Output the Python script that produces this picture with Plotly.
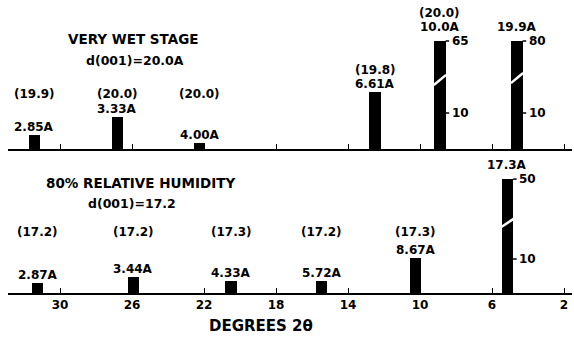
import plotly.graph_objects as go

# ---------------- data ----------------
# upper pattern: very wet stage
wet_2theta = [31.44, 26.83, 22.25, 12.5, 8.89, 4.61]
wet_height = [3.9, 8.9, 1.7, 15.8, 30.0, 30.0]          # drawn height (scale units, 10 = tick "10")
wet_dlabel = ["2.85A", "3.33A", "4.00A", "6.61A", "10.0A", "19.9A"]
wet_d001 = ["(19.9)", "(20.0)", "(20.0)", "(19.8)", "(20.0)", ""]
wet_scale_top = ["", "", "", "", "65", "80"]
wet_break_lo = [None, None, None, None, 17.8, 18.3]
wet_break_hi = [None, None, None, None, 20.6, 21.1]

# lower pattern: 80% relative humidity
rh_2theta = [31.25, 25.94, 20.5, 15.47, 10.25, 5.14]
rh_height = [2.9, 4.7, 3.5, 3.5, 10.3, 33.5]
rh_dlabel = ["2.87A", "3.44A", "4.33A", "5.72A", "8.67A", "17.3A"]
rh_d001 = ["(17.2)", "(17.2)", "(17.3)", "(17.2)", "(17.3)", ""]
rh_scale_top = ["", "", "", "", "", "50"]
rh_break_lo = [None, None, None, None, None, 19.4]
rh_break_hi = [None, None, None, None, None, 21.8]

x_ticks = [30, 26, 22, 18, 14, 10, 6, 2]
x_ticklabels = ["30", "26", "22", "18", "14", "10", "6", "2"]
scale_mid_value = 10

titles_wet = ["VERY WET STAGE", "d(001)=20.0A"]
titles_rh = ["80% RELATIVE HUMIDITY", "d(001)=17.2"]
x_title = "DEGREES 2θ"

# ---------------- layout constants ----------------
FW, FH = 574, 341
ML, MR, MT, MB = 8, 2, 0, 48
PW, PH = FW - ML - MR, FH - MT - MB
X_RANGE = [32.89, 1.556]
BAR_W = 0.62
FONT = "DejaVu Sans"

top_base_px = 149          # baseline of upper pattern (from top of plot area)
bot_top_px = 163           # top of lower panel
top_unit = 3.6             # px per unit
bot_unit = 3.4

top_dom = [(PH - top_base_px) / PH, 1.0]
bot_dom = [0.0, (PH - bot_top_px) / PH]
top_range = [0, top_base_px / top_unit]
bot_range = [0, (PH - bot_top_px) / bot_unit]

fig = go.Figure()
annotations = []


def bold(t):
    return "<b>" + t + "</b>"


def panel(xs, hs, dl, d001, scale_top, blo, bhi, xa, ya, unit, row_px):
    xref = "x" if xa == "x" else "x2"
    yref = "y" if ya == "y" else "y2"
    fig.add_trace(go.Bar(x=xs, y=hs, width=BAR_W, xaxis=xa, yaxis=ya,
                         marker=dict(color="black", line=dict(width=0)),
                         showlegend=False, hoverinfo="skip"))
    bx, by, tx, ty = [], [], [], []
    for i, x in enumerate(xs):
        broken = scale_top[i] != ""
        if broken:
            bx += [x + BAR_W / 2 + 0.03, x - BAR_W / 2 - 0.03, None]
            by += [blo[i], bhi[i], None]
            xe = x - BAR_W / 2
            for yv in (hs[i], scale_mid_value):
                tx += [xe, xe - 0.2, None]
                ty += [yv, yv, None]
            for yv, t in ((hs[i], scale_top[i]), (scale_mid_value, "10")):
                annotations.append(dict(x=xe - 0.22, y=yv, xref=xref, yref=yref,
                                        text=bold(t), showarrow=False, xanchor="left",
                                        yanchor="middle", font=dict(family=FONT, size=12, color="black")))
        extra = 6 if broken else 0
        top_px = hs[i] * unit
        dl_center = top_px + 8 + extra
        annotations.append(dict(x=x, y=0, xref=xref, yref=yref, text=bold(dl[i]),
                                showarrow=False, xanchor="center", yanchor="middle",
                                yshift=dl_center,
                                font=dict(family=FONT, size=12, color="black")))
        if d001[i]:
            pc = max(row_px, dl_center + 14)
            annotations.append(dict(x=x, y=0, xref=xref, yref=yref, text=bold(d001[i]),
                                    showarrow=False, xanchor="center", yanchor="middle",
                                    yshift=pc,
                                    font=dict(family=FONT, size=12, color="black")))
    fig.add_trace(go.Scatter(x=bx, y=by, mode="lines", xaxis=xa, yaxis=ya,
                             line=dict(color="white", width=2.5),
                             showlegend=False, hoverinfo="skip"))
    fig.add_trace(go.Scatter(x=tx, y=ty, mode="lines", xaxis=xa, yaxis=ya,
                             line=dict(color="black", width=1.5),
                             showlegend=False, hoverinfo="skip"))


panel(wet_2theta, wet_height, wet_dlabel, wet_d001, wet_scale_top,
      wet_break_lo, wet_break_hi, "x2", "y2", top_unit, 55)
panel(rh_2theta, rh_height, rh_dlabel, rh_d001, rh_scale_top,
      rh_break_lo, rh_break_hi, "x", "y", bot_unit, 61)


def paper_xy(px, py):
    return (px - ML) / PW, (PH - (py - MT)) / PH


for (txt, px, py, sz) in [(titles_wet[0], 133, 39, 13.5), (titles_wet[1], 135, 60, 12.5),
                          (titles_rh[0], 140, 183, 13.5), (titles_rh[1], 132, 203, 12.5),
                          (x_title, 261, 326, 15)]:
    xx, yy = paper_xy(px, py)
    annotations.append(dict(x=xx, y=yy, xref="paper", yref="paper", text=bold(txt),
                            showarrow=False, xanchor="center", yanchor="middle",
                            font=dict(family=FONT, size=sz, color="black")))

axis_common = dict(range=X_RANGE, showgrid=False, zeroline=False, showline=True,
                   linecolor="black", linewidth=1.8, ticks="inside", ticklen=5,
                   tickwidth=1.2, tickcolor="black", tickvals=x_ticks,
                   ticktext=[bold(t) for t in x_ticklabels], fixedrange=True)

fig.update_layout(
    width=FW, height=FH,
    margin=dict(l=ML, r=MR, t=MT, b=MB, pad=0),
    paper_bgcolor="white", plot_bgcolor="white",
    bargap=0,
    xaxis=dict(**axis_common, anchor="y", showticklabels=True,
               tickfont=dict(family=FONT, size=12, color="black")),
    xaxis2=dict(**axis_common, anchor="y2", showticklabels=False, matches="x"),
    yaxis=dict(domain=bot_dom, range=bot_range, visible=False, fixedrange=True),
    yaxis2=dict(domain=top_dom, range=top_range, visible=False, fixedrange=True),
    annotations=annotations,
    font=dict(family=FONT, color="black"),
)

fig.write_html("out.html")
